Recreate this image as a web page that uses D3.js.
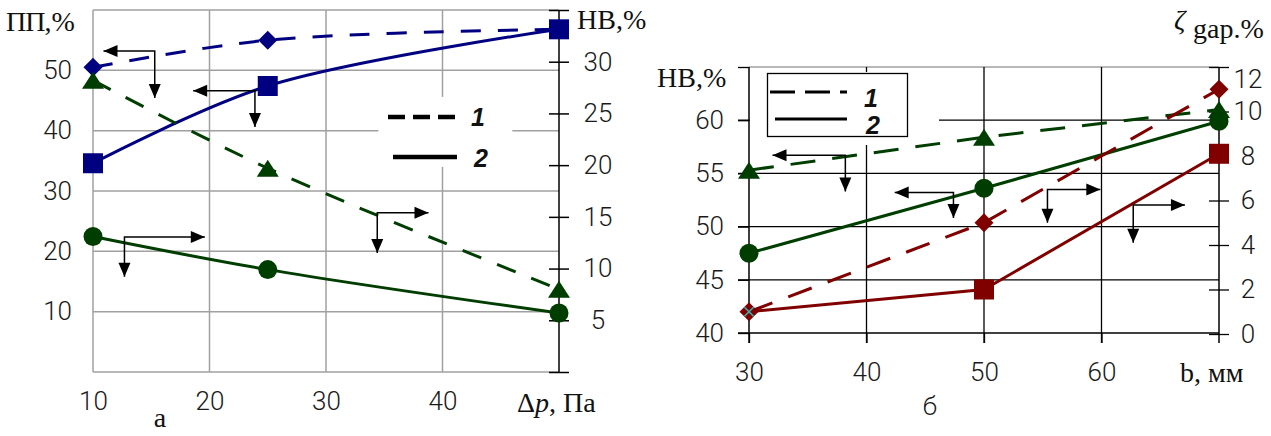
<!DOCTYPE html>
<html><head><meta charset="utf-8">
<script src="https://cdn.jsdelivr.net/npm/d3@7"></script>
<style>
body{margin:0;background:#fff}
svg{display:block}
.num text,.num{font-family:Roboto,"Liberation Sans",sans-serif;font-weight:300;font-size:26px;fill:#1a1a1a}
.ser{font-family:"Liberation Serif","Times New Roman",serif;font-size:28px;fill:#111}
.leg{font-family:"Liberation Sans",Arial,sans-serif;font-weight:bold;font-style:italic;font-size:25px;fill:#111}
</style></head><body>
<svg id="c" width="1271" height="436"></svg>
<script>
// ---- panel а: influence of pressure drop Δp ----
const dpValues   = [10, 25, 50];
const ppDashed   = [50.5, 55.0, 56.8];   // ПП, series 1
const ppSolid    = [34.6, 47.4, 56.8];   // ПП, series 2
const hvDashedA  = [28.2, 19.7, 8.0];    // НВ, series 1
const hvSolidA   = [13.1, 9.9, 5.7];     // НВ, series 2
const dpTicks    = [10, 20, 30, 40];
const ppTicks    = [10, 20, 30, 40, 50];
const hvTicksA   = [5, 10, 15, 20, 25, 30];

// ---- panel б: influence of width b ----
const bValues    = [30, 50, 70];
const hvDashedB  = [55.3, 58.4, 61.0];   // НВ, series 1
const hvSolidB   = [47.5, 53.6, 59.9];   // НВ, series 2
const zetaDashed = [1.0, 5.0, 11.0];     // ζ, series 1
const zetaSolid  = [1.0, 2.0, 8.1];      // ζ, series 2
const bTicks     = [30, 40, 50, 60];
const hvTicksB   = [40, 45, 50, 55, 60];
const zetaTicks  = [0, 2, 4, 6, 8, 10, 12];

const legendLabels = ["1", "2"];

const BLUE = "#000080", GREEN = "#003d00", RED = "#800000";

const svg = d3.select("#c");

function markerPath(shape, r) {
  if (shape === "square") return `M${-r},${-r}H${r}V${r}H${-r}Z`;
  if (shape === "diamond") return `M0,${-r}L${r},0L0,${r}L${-r},0Z`;
  if (shape === "triangle") return `M0,${-r * 0.85}L${r * 1.1},${r * 0.85}L${-r * 1.1},${r * 0.85}Z`;
  if (shape === "x") return `M${-r},${-r}L${r},${r}M${r},${-r}L${-r},${r}`;
  return null;
}
function drawMarkers(g, xs, ys, x, y, shape, color, r) {
  xs.forEach((xv, i) => {
    if (shape === "circle") {
      g.append("circle").attr("cx", x(xv)).attr("cy", y(ys[i])).attr("r", r).attr("fill", color);
    } else {
      g.append("path").attr("transform", `translate(${x(xv)},${y(ys[i])})`)
        .attr("d", markerPath(shape, r)).attr("fill", color);
    }
  });
}
function drawLine(g, xs, ys, x, y, color, dashed, curve, dash) {
  const line = d3.line().x(d => x(d[0])).y(d => y(d[1])).curve(curve);
  g.append("path").datum(xs.map((v, i) => [v, ys[i]]))
    .attr("d", line).attr("fill", "none").attr("stroke", color)
    .attr("stroke-width", 3).attr("stroke-dasharray", dashed ? dash : null);
}
// elbow arrow: corner (cx,cy) with a horizontal leg to hx and a vertical leg to vy
function elbowArrow(g, x, y, a) {
  const cx = x(a.x), cy = y(a.y), hx = x(a.hx), vy = y(a.vy);
  g.append("path").attr("d", `M${hx},${cy}H${cx}V${vy}`)
    .attr("fill", "none").attr("stroke", "#000").attr("stroke-width", 1.5);
  const s = Math.sign(hx - cx), L = 14, W = 6;
  g.append("path").attr("d", `M${hx},${cy}L${hx - s * L},${cy - W}L${hx - s * L},${cy + W}Z`).attr("fill", "#000");
  g.append("path").attr("d", `M${cx},${vy}L${cx - W},${vy - L}L${cx + W},${vy - L}Z`).attr("fill", "#000");
}

// ================= panel а =================
(function () {
  const x = d3.scaleLinear().domain([10, 50]).range([93, 559]);
  const yL = d3.scaleLinear().domain([0, 60]).range([372, 10]);
  const yR = d3.scaleLinear().domain([0, 35]).range([372, 10]);
  const g = svg.append("g");
  const grid = g.append("g").attr("stroke", "#a0a0a0").attr("stroke-width", 1.5);
  dpTicks.forEach(v => grid.append("line").attr("x1", x(v)).attr("x2", x(v)).attr("y1", yL(0)).attr("y2", yL(60)));
  [0, ...ppTicks, 60].forEach(v => grid.append("line").attr("x1", x(10)).attr("x2", x(50)).attr("y1", yL(v)).attr("y2", yL(v)));

  // legend backdrop
  g.append("rect").attr("x", x(34.5)).attr("y", yL(45.6)).attr("width", x(46) - x(34.5)).attr("height", yL(34) - yL(45.6)).attr("fill", "#fff");

  // axes
  const ax = g.append("g").attr("class", "num").attr("transform", `translate(${x(10)},0)`)
    .call(d3.axisLeft(yL).tickValues(ppTicks).tickSize(0).tickPadding(21));
  ax.select(".domain").remove();
  const bx = g.append("g").attr("class", "num").attr("transform", `translate(0,${yL(0)})`)
    .call(d3.axisBottom(x).tickValues(dpTicks).tickSize(0).tickPadding(20));
  bx.select(".domain").remove();
  const rx = g.append("g").attr("class", "num").attr("transform", `translate(${x(50)},0)`)
    .call(d3.axisRight(yR).tickValues(d3.range(0, 36, 5)).tickSize(10)
      .tickFormat(d => hvTicksA.includes(d) ? d : ""));
  rx.select(".domain").attr("stroke", "#000").attr("stroke-width", 1.5).attr("d", `M0,${yR(35)}V${yR(0)}`);
  rx.selectAll(".tick line").attr("x1", -10).attr("stroke", "#000").attr("stroke-width", 1.5);
  rx.selectAll(".tick text").attr("x", 39).attr("text-anchor", "middle");
  [ax, bx, rx].forEach(a => a.selectAll("text").attr("font-family", null).attr("font-size", null));

  // series
  const c = d3.curveCatmullRom.alpha(0.5);
  drawLine(g, dpValues, ppDashed, x, yL, BLUE, true, c, "20,17");
  drawLine(g, dpValues, ppSolid, x, yL, BLUE, false, c);
  drawLine(g, dpValues, hvDashedA, x, yR, GREEN, true, c, "20,17");
  drawLine(g, dpValues, hvSolidA, x, yR, GREEN, false, c);
  drawMarkers(g, dpValues, ppDashed, x, yL, "diamond", BLUE, 9.5);
  drawMarkers(g, dpValues, ppSolid, x, yL, "square", BLUE, 10);
  drawMarkers(g, dpValues, hvDashedA, x, yR, "triangle", GREEN, 10);
  drawMarkers(g, dpValues, hvSolidA, x, yR, "circle", GREEN, 9.5);

  // axis-reference arrows
  elbowArrow(g, x, yL, {x: 15.3, y: 53.2, hx: 10.9, vy: 45.4});
  elbowArrow(g, x, yL, {x: 23.9, y: 46.6, hx: 18.6, vy: 40.6});
  elbowArrow(g, x, yR, {x: 34.4, y: 15.4, hx: 38.8, vy: 11.5});
  elbowArrow(g, x, yR, {x: 12.7, y: 13.05, hx: 19.6, vy: 9.2});

  // legend
  g.append("line").attr("x1", 388).attr("x2", 457).attr("y1", 117).attr("y2", 117)
    .attr("stroke", "#000").attr("stroke-width", 4.5).attr("stroke-dasharray", "17,8");
  g.append("line").attr("x1", 393).attr("x2", 457).attr("y1", 157).attr("y2", 157)
    .attr("stroke", "#000").attr("stroke-width", 4.5);
  g.append("text").attr("class", "leg").attr("x", 471).attr("y", 126).text(legendLabels[0]);
  g.append("text").attr("class", "leg").attr("x", 474).attr("y", 167).text(legendLabels[1]);

  // titles
  g.append("text").attr("class", "ser").attr("x", 6).attr("y", 31).attr("font-size", 29)
    .html('<tspan letter-spacing="-1">ПП</tspan>,%');
  g.append("text").attr("class", "ser").attr("x", 577).attr("y", 29).text("НВ,%");
  const t = g.append("text").attr("class", "ser").attr("x", 517).attr("y", 412);
  t.append("tspan").text("Δ");
  t.append("tspan").attr("font-style", "italic").text("p");
  t.append("tspan").text(", Па");
  g.append("text").attr("class", "ser").attr("x", 160).attr("y", 427).attr("font-size", 25)
    .attr("text-anchor", "middle").text("а");
})();

// ================= panel б =================
(function () {
  const x = d3.scaleLinear().domain([30, 70]).range([749, 1219]);
  const yL = d3.scaleLinear().domain([40, 65]).range([333, 67]);
  const yR = d3.scaleLinear().domain([0, 12]).range([334, 67]);
  const g = svg.append("g");

  g.append("line").attr("x1", x(30)).attr("x2", x(70)).attr("y1", yL(65)).attr("y2", yL(65))
    .attr("stroke", "#a0a0a0").attr("stroke-width", 1.5);
  const grid = g.append("g").attr("stroke", "#000").attr("stroke-width", 1.3);
  bTicks.slice(1).forEach(v => grid.append("line").attr("x1", x(v)).attr("x2", x(v)).attr("y1", yL(65)).attr("y2", yL(40) + 10));
  hvTicksB.forEach(v => grid.append("line").attr("x1", x(30) - 11).attr("x2", x(70)).attr("y1", yL(v)).attr("y2", yL(v)));
  // legend backdrop
  g.append("rect").attr("x", x(30) + 1).attr("y", 72).attr("width", 939 - x(30) - 1).attr("height", 73).attr("fill", "#fff");

  // left axis
  const ax = g.append("g").attr("class", "num").attr("transform", `translate(${x(30)},0)`)
    .call(d3.axisLeft(yL).tickValues([...hvTicksB, 65]).tickSize(11).tickPadding(14)
      .tickFormat(d => hvTicksB.includes(d) ? d : ""));
  ax.select(".domain").attr("stroke", "#000").attr("stroke-width", 1.5).attr("d", `M0,${yL(65)}V${yL(40) + 10}`);
  ax.selectAll(".tick line").attr("stroke", "#000").attr("stroke-width", 1.3);
  // bottom axis
  const bx = g.append("g").attr("class", "num").attr("transform", `translate(0,${yL(40)})`)
    .call(d3.axisBottom(x).tickValues(bTicks).tickSize(10).tickPadding(20));
  bx.select(".domain").remove();
  bx.selectAll(".tick line").attr("stroke", "#000").attr("stroke-width", 1.3);
  // right axis
  const rx = g.append("g").attr("class", "num").attr("transform", `translate(${x(70)},0)`)
    .call(d3.axisRight(yR).tickValues(zetaTicks).tickSize(10));
  rx.select(".domain").attr("stroke", "#000").attr("stroke-width", 1.5).attr("d", `M0,${yR(12)}V${yL(40) + 10}`);
  rx.selectAll(".tick line").attr("x1", -10).attr("stroke", "#000").attr("stroke-width", 1.3);
  rx.selectAll(".tick text").attr("x", 29).attr("text-anchor", "middle")
    .attr("dy", d => d === 12 ? "0.8em" : "0.32em");
  [ax, bx, rx].forEach(a => a.selectAll("text").attr("font-family", null).attr("font-size", null));

  // series
  const c = d3.curveLinear;
  drawLine(g, bValues, hvDashedB, x, yL, GREEN, true, c, "25,17");
  drawLine(g, bValues, hvSolidB, x, yL, GREEN, false, c);
  drawLine(g, bValues, zetaDashed, x, yR, RED, true, c, "25,17");
  drawLine(g, bValues, zetaSolid, x, yR, RED, false, c);
  drawMarkers(g, bValues, zetaDashed, x, yR, "diamond", RED, 9.5);
  drawMarkers(g, bValues.slice(1), zetaSolid.slice(1), x, yR, "square", RED, 10);
  drawMarkers(g, bValues, hvDashedB, x, yL, "triangle", GREEN, 10);
  drawMarkers(g, bValues, hvSolidB, x, yL, "circle", GREEN, 9.5);
  g.append("path").attr("transform", `translate(${x(bValues[0])},${yR(zetaSolid[0])})`)
    .attr("d", markerPath("x", 4.5)).attr("stroke", "#33b5b5").attr("stroke-width", 1.6).attr("fill", "none");

  // axis-reference arrows
  elbowArrow(g, x, yL, {x: 38.2, y: 56.7, hx: 32.0, vy: 53.3});
  elbowArrow(g, x, yL, {x: 47.4, y: 53.2, hx: 42.4, vy: 50.8});
  elbowArrow(g, x, yR, {x: 55.4, y: 6.5, hx: 59.9, vy: 5.0});
  elbowArrow(g, x, yR, {x: 62.7, y: 5.8, hx: 67.1, vy: 4.1});

  // legend
  g.append("rect").attr("x", 767.5).attr("y", 73.5).attr("width", 140).attr("height", 63)
    .attr("fill", "#fff").attr("stroke", "#000").attr("stroke-width", 1.3);
  g.append("line").attr("x1", 770).attr("x2", 847).attr("y1", 92).attr("y2", 92)
    .attr("stroke", "#000").attr("stroke-width", 3).attr("stroke-dasharray", "25,10");
  g.append("line").attr("x1", 775).attr("x2", 847).attr("y1", 119).attr("y2", 119)
    .attr("stroke", "#000").attr("stroke-width", 3);
  g.append("text").attr("class", "leg").attr("x", 864).attr("y", 107).text(legendLabels[0]);
  g.append("text").attr("class", "leg").attr("x", 866).attr("y", 134).text(legendLabels[1]);

  // titles
  g.append("text").attr("class", "ser").attr("x", 657).attr("y", 87).text("НВ,%");
  g.append("text").attr("class", "ser").attr("x", 1174).attr("y", 29).attr("font-size", 26).attr("font-style", "italic").text("ζ");
  g.append("text").attr("class", "ser").attr("x", 1193).attr("y", 38).attr("font-size", 19).text("gap.%");
  g.append("text").attr("class", "ser").attr("x", 1180).attr("y", 382).text("b, мм");
  g.append("text").attr("class", "num").attr("x", 930).attr("y", 415).attr("text-anchor", "middle").text("б");
})();
</script>
</body></html>
